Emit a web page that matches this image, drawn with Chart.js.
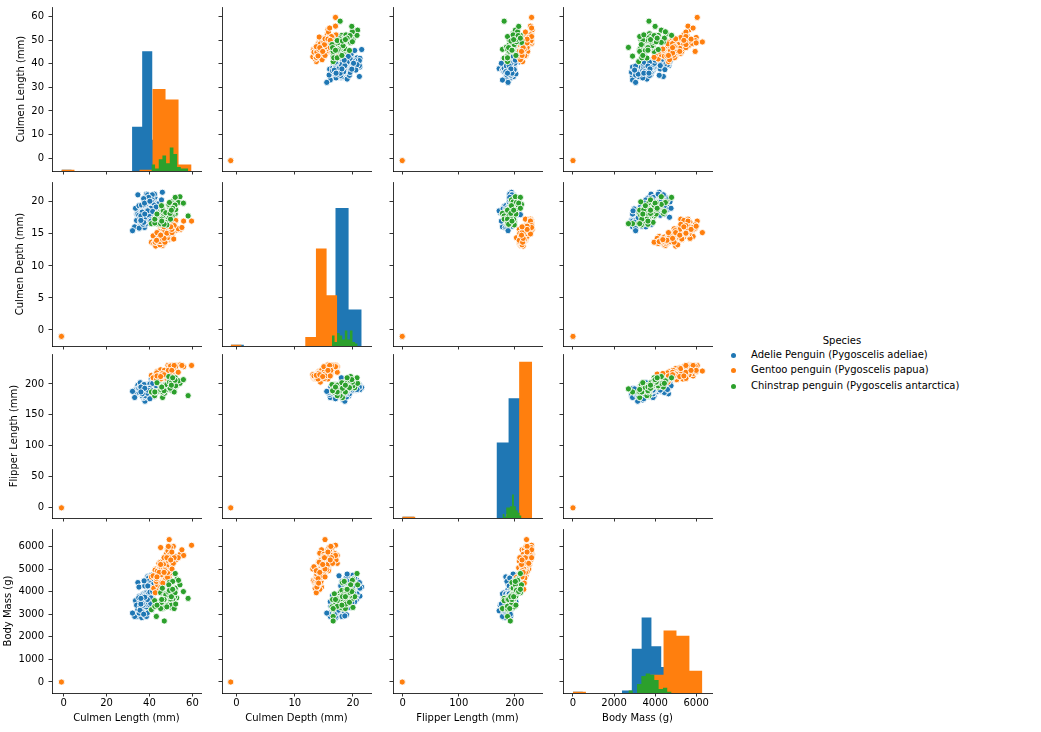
<!DOCTYPE html>
<html>
<head>
<meta charset="utf-8">
<script src="https://cdn.jsdelivr.net/npm/chart.js@4.4.0/dist/chart.umd.min.js"></script>
<style>
  html, body { margin: 0; padding: 0; background: #ffffff; }
  body { width: 1041px; height: 732px; position: relative; overflow: hidden; font-family: "DejaVu Sans", sans-serif; }
  canvas { position: absolute; }
  .leg { position: absolute; font-family: "DejaVu Sans", sans-serif; font-size: 10px; line-height: 12px; color: #000; white-space: nowrap; }
  .dot { position: absolute; width: 5px; height: 5px; border-radius: 50%; }
</style>
</head>
<body>
<script>
// ---------------- DATA ----------------
const variableLabels = ['Culmen Length (mm)', 'Culmen Depth (mm)', 'Flipper Length (mm)', 'Body Mass (g)'];
const speciesNames = ['Adelie Penguin (Pygoscelis adeliae)', 'Gentoo penguin (Pygoscelis papua)', 'Chinstrap penguin (Pygoscelis antarctica)'];
const legendTitle = 'Species';

// axis ranges and tick labels per variable
const axisMin = [-5.4, -2.5, -17.5, -487];
const axisMax = [64.0, 23.1, 248.6, 6770];
const ticksX = [[0, 20, 40, 60], [0, 10, 20], [0, 100, 200], [0, 2000, 4000, 6000]];
const ticksY = [[0, 10, 20, 30, 40, 50, 60], [0, 5, 10, 15, 20], [0, 50, 100, 150, 200], [0, 1000, 2000, 3000, 4000, 5000, 6000]];

// rows: [culmen length, culmen depth, flipper length, body mass]
const adelie = [
  [39.1,18.7,181,3750],[39.5,17.4,186,3800],[40.3,18.0,195,3250],[-1,-1,-1,-1],[36.7,19.3,193,3450],
  [39.3,20.6,190,3650],[38.9,17.8,181,3625],[39.2,19.6,195,4675],[34.1,18.1,193,3475],[42.0,20.2,190,4250],
  [37.8,17.1,186,3300],[37.8,17.3,180,3700],[41.1,17.6,182,3200],[38.6,21.2,191,3800],[34.6,21.1,198,4400],
  [36.6,17.8,185,3700],[38.7,19.0,195,3450],[42.5,20.7,197,4500],[34.4,18.4,184,3325],[46.0,21.5,194,4200],
  [37.8,18.3,174,3400],[37.7,18.7,180,3600],[35.9,19.2,189,3800],[38.2,18.1,185,3950],[38.8,17.2,180,3800],
  [35.3,18.9,187,3800],[40.6,18.6,183,3550],[40.5,17.9,187,3200],[37.9,18.6,172,3150],[40.5,18.9,180,3950],
  [39.5,16.7,178,3250],[37.2,18.1,178,3900],[39.5,17.8,188,3300],[40.9,18.9,184,3900],[36.4,17.0,195,3325],
  [39.2,21.1,196,4150],[38.8,20.0,190,3950],[42.2,18.5,180,3550],[37.6,19.3,181,3300],[39.8,19.1,184,4650],
  [36.5,18.0,182,3150],[40.8,18.4,195,3900],[36.0,18.5,186,3100],[44.1,19.7,196,4400],[37.0,16.9,185,3000],
  [39.6,18.8,190,4600],[41.1,19.0,182,3425],[37.5,18.9,179,2975],[36.0,17.9,190,3500],[42.3,21.2,191,4150],
  [39.6,17.7,186,3500],[40.1,18.9,188,4300],[35.0,17.9,190,3450],[42.0,19.5,200,4050],[34.5,18.1,187,2900],
  [41.4,18.6,191,3700],[39.0,17.5,186,3550],[40.6,18.8,193,3800],[36.5,16.6,181,2850],[37.6,19.1,194,3750],
  [35.7,16.9,185,3150],[41.3,21.1,195,4400],[37.6,17.0,185,3600],[41.1,18.2,192,4050],[36.4,17.1,184,2850],
  [41.6,18.0,192,3950],[35.5,16.2,195,3350],[41.1,19.1,188,4100],[35.9,16.6,190,3050],[41.8,19.4,198,4450],
  [33.5,19.0,190,3600],[39.7,18.4,190,3900],[39.6,17.2,196,3550],[45.8,18.9,197,4150],[35.5,17.5,190,3700],
  [42.8,18.5,195,4250],[40.9,16.8,191,3700],[37.2,19.4,184,3900],[36.2,16.1,187,3550],[42.1,19.1,195,4000],
  [34.6,17.2,189,3200],[42.9,17.6,196,4700],[36.7,18.8,187,3800],[35.1,19.4,193,4200],[37.3,17.8,191,3350],
  [41.3,20.3,194,3550],[36.3,19.5,190,3800],[36.9,18.6,189,3500],[38.3,19.2,189,3950],[38.9,18.8,190,3600],
  [35.7,18.0,202,3550],[41.1,18.1,205,4300],[34.0,17.1,185,3400],[39.6,18.1,186,4450],[36.2,17.3,187,3300],
  [40.8,18.9,208,4300],[38.1,18.6,190,3700],[40.3,18.5,196,4350],[33.1,16.1,178,2900],[43.2,18.5,192,4100],
  [35.0,17.9,192,3725],[41.0,20.0,203,4725],[37.7,16.0,183,3075],[37.8,20.0,190,4250],[37.9,18.6,193,2925],
  [39.7,18.9,184,3550],[38.6,17.2,199,3750],[38.2,20.0,190,3900],[38.1,17.0,181,3175],[43.2,19.0,197,4775],
  [38.1,16.5,198,3825],[45.6,20.3,191,4600],[39.7,17.7,193,3200],[42.2,19.5,197,4275],[39.6,20.7,191,3900],
  [42.7,18.3,196,4075],[38.6,17.0,188,2900],[37.3,20.5,199,3775],[35.7,17.0,189,3350],[41.1,18.6,189,3325],
  [36.2,17.2,187,3150],[37.7,19.8,198,3500],[40.2,17.0,176,3450],[41.4,18.5,202,3875],[35.2,15.9,186,3050],
  [40.6,19.0,199,4000],[38.8,17.6,191,3275],[41.5,18.3,195,4300],[39.0,17.1,191,3050],[44.1,18.0,210,4000],
  [38.5,17.9,190,3325],[43.1,19.2,197,3500],[36.8,18.5,193,3500],[37.5,18.5,199,4475],[38.1,17.6,187,3425],
  [41.1,17.5,190,3900],[35.6,17.5,191,3175],[40.2,20.1,200,3975],[37.0,16.5,185,3400],[39.7,17.9,193,4250],
  [40.2,17.1,193,3400],[40.6,17.2,187,3475],[32.1,15.5,188,3050],[40.7,17.0,190,3725],[37.3,16.8,192,3000],
  [39.0,18.7,185,3650],[39.2,18.6,190,4250],[36.6,18.4,184,3475],[36.0,17.8,195,3450],[37.8,18.1,193,3750],
  [36.0,17.1,187,3700],[41.5,18.5,201,4000]
];
const gentoo = [
  [46.1,13.2,211,4500],[50.0,16.3,230,5700],[48.7,14.1,210,4450],[50.0,15.2,218,5700],[47.6,14.5,215,5400],
  [46.5,13.5,210,4550],[45.4,14.6,211,4800],[46.7,15.3,219,5200],[43.3,13.4,209,4400],[46.8,15.4,215,5150],
  [40.9,13.7,214,4650],[49.0,16.1,216,5550],[45.5,13.7,214,4650],[48.4,14.6,213,5850],[45.8,14.6,210,4200],
  [49.3,15.7,217,5850],[42.0,13.5,210,4150],[49.2,15.2,221,6300],[46.2,14.5,209,4800],[48.7,15.1,222,5350],
  [50.2,14.3,218,5700],[45.1,14.5,215,5000],[46.5,14.5,213,4400],[46.3,15.8,215,5050],[42.9,13.1,215,5000],
  [46.1,15.1,215,5100],[44.5,14.3,216,4100],[47.8,15.0,215,5650],[48.2,14.3,210,4600],[50.0,15.3,220,5550],
  [47.3,15.3,222,5250],[42.8,14.2,209,4700],[45.1,14.5,207,5050],[59.6,17.0,230,6050],[49.1,14.8,220,5150],
  [48.4,16.3,220,5400],[42.6,13.7,213,4950],[44.4,17.3,219,5250],[44.0,13.6,208,4350],[48.7,15.7,208,5350],
  [42.7,13.7,208,3950],[49.6,16.0,225,5700],[45.3,13.7,210,4300],[49.6,15.0,216,4750],[50.5,15.9,222,5550],
  [43.6,13.9,217,4900],[45.5,13.9,210,4200],[50.5,15.9,225,5400],[44.9,13.3,213,5100],[45.2,15.8,215,5300],
  [46.6,14.2,210,4850],[48.5,14.1,220,5300],[45.1,14.4,210,4400],[50.1,15.0,225,5000],[46.5,14.4,217,4900],
  [45.0,15.4,220,5050],[43.8,13.9,208,4300],[45.5,15.0,220,5000],[43.2,14.5,208,4450],[50.4,15.3,224,5550],
  [45.3,13.8,208,4200],[46.2,14.9,221,5300],[45.7,13.9,214,4400],[54.3,15.7,231,5650],[45.8,14.2,219,4700],
  [49.8,16.8,230,5700],[46.2,14.4,214,4650],[49.5,16.2,229,5800],[43.5,14.2,220,4700],[50.7,15.0,223,5550],
  [47.7,15.0,216,4750],[46.4,15.6,221,5000],[48.2,15.6,221,5100],[46.5,14.8,217,5200],[46.4,15.0,216,4700],
  [48.6,16.0,230,5800],[47.5,14.2,209,4600],[51.1,16.3,220,6000],[45.2,13.8,215,4750],[45.2,16.4,223,5950],
  [49.1,14.5,212,4625],[52.5,15.6,221,5450],[47.4,14.6,212,4725],[50.0,15.9,224,5350],[44.9,13.8,212,4750],
  [50.8,17.3,228,5600],[43.4,14.4,218,4600],[51.3,14.2,218,5300],[47.5,14.0,212,4875],[52.1,17.0,230,5550],
  [47.5,15.0,218,4950],[52.2,17.1,228,5400],[45.5,14.5,212,4750],[49.5,16.1,224,5650],[44.5,14.7,214,4850],
  [50.8,15.7,226,5200],[49.4,15.8,216,4925],[46.9,14.6,222,4875],[48.4,14.4,203,4625],[51.1,16.5,225,5250],
  [48.5,15.0,219,4850],[55.9,17.0,228,5600],[47.2,15.5,215,4975],[49.1,15.0,228,5500],[46.8,16.1,215,5500],
  [41.7,14.7,210,4700],[53.4,15.8,219,5500],[43.3,14.0,208,4575],[48.1,15.1,209,5500],[50.5,15.2,216,5000],
  [49.8,15.9,229,5950],[43.5,15.2,213,4650],[51.5,16.3,230,5500],[46.2,14.1,217,4375],[55.1,16.0,230,5850],
  [48.8,16.2,222,6000],[47.2,13.7,214,4925],[46.8,14.3,215,4850],[50.4,15.7,222,5750],[45.2,14.8,212,5200],
  [49.9,16.1,213,5400],[-1,-1,-1,-1]
];
const chinstrap = [
  [46.5,17.9,192,3500],[50.0,19.5,196,3900],[51.3,19.2,193,3650],[45.4,18.7,188,3525],[52.7,19.8,197,3725],
  [45.2,17.8,198,3950],[46.1,18.2,178,3250],[51.3,18.2,197,3750],[46.0,18.9,195,4150],[51.3,19.9,198,3700],
  [46.6,17.8,193,3800],[51.7,20.3,194,3775],[47.0,17.3,185,3700],[52.0,18.1,201,4050],[45.9,17.1,190,3575],
  [50.5,19.6,201,4050],[50.3,20.0,197,3300],[58.0,17.8,181,3700],[46.4,18.6,190,3450],[49.2,18.2,195,4400],
  [42.4,17.3,181,3600],[48.5,17.5,191,3400],[43.2,16.6,187,2900],[50.6,19.4,193,3800],[46.7,17.9,195,3300],
  [52.0,19.0,197,4150],[50.5,18.4,200,3400],[49.5,19.0,200,3800],[46.4,17.8,191,3700],[52.8,20.0,205,4550],
  [40.9,16.6,187,3200],[54.2,20.8,201,4300],[42.5,16.7,187,3350],[51.0,18.8,203,4100],[49.7,18.6,195,3600],
  [47.5,16.8,199,3900],[47.6,18.3,195,3850],[52.0,20.7,210,4800],[46.9,16.6,192,2700],[53.5,19.9,205,4500],
  [49.0,19.5,210,3950],[46.2,17.5,187,3650],[50.9,19.1,196,3550],[45.5,17.0,196,3500],[50.9,17.9,196,3675],
  [50.8,18.5,201,4450],[50.1,17.9,190,3400],[49.0,19.6,212,4300],[51.5,18.7,187,3250],[49.8,17.3,198,3675],
  [48.1,16.4,199,3325],[51.4,19.0,201,3950],[45.7,17.3,193,3600],[50.7,19.7,203,4050],[42.5,17.3,187,3350],
  [52.2,18.8,197,3450],[45.2,16.6,191,3250],[49.3,19.9,203,4050],[50.2,18.8,202,3800],[45.6,19.4,194,3525],
  [51.9,19.5,206,3950],[46.8,16.5,189,3650],[45.7,17.0,195,3650],[55.8,19.8,207,4000],[43.5,18.1,202,3400],
  [49.6,18.2,193,3775],[50.8,19.0,210,4100],[50.2,18.7,198,3775]
];

// diagonal histograms: value range of each species (10 equal bins) and bar counts, per variable
const histCountMax = 126;
const adelieHistRange = [[-1, 46.0], [-1, 21.5], [-1, 210], [-1, 4775]];
const adelieHistCounts = [
  [1, 0, 0, 0, 0, 0, 0, 34, 92, 24],
  [1, 0, 0, 0, 0, 0, 0, 16, 106, 28],
  [1, 0, 0, 0, 0, 0, 0, 0, 58, 92],
  [1, 0, 0, 0, 0, 2, 34, 58, 36, 20]
];
const gentooHistRange = [[-1, 59.6], [-1, 17.3], [-1, 231], [-1, 6300]];
const gentooHistCounts = [
  [1, 0, 0, 0, 0, 0, 1, 63, 55, 5],
  [1, 0, 0, 0, 0, 0, 0, 7, 75, 39],
  [1, 0, 0, 0, 0, 0, 0, 0, 3, 120],
  [1, 0, 0, 0, 0, 0, 14, 48, 44, 17]
];
const chinstrapHistRange = [[40.9, 58.0], [16.4, 20.8], [178, 212], [2700, 4800]];
const chinstrapHistCounts = [
  [5, 2, 9, 12, 6, 18, 13, 3, 2, 2],
  [8, 3, 10, 8, 5, 12, 5, 12, 3, 2],
  [3, 1, 8, 8, 9, 18, 9, 6, 4, 2],
  [2, 0, 7, 13, 15, 14, 10, 3, 4, 1]
];

// ---------------- STYLE / LAYOUT ----------------
const speciesColors = ['#1f77b4', '#ff7f0e', '#2ca02c'];
const panelLeft = [52, 222, 393, 563];
const panelTop = [7, 182, 354, 529];
const panelW = 149, panelH = 164;
const yAxisW = 52, xAxisH = 40, padTop = 12, padRight = 15;
const yTitlePad = [15.7, 14.7, 8.7, 2.3];
const FONT = { family: '"DejaVu Sans", sans-serif', size: 10 };
const TXT = '#000000';

const allSpecies = [adelie, gentoo, chinstrap];
const histRanges = [adelieHistRange, gentooHistRange, chinstrapHistRange];
const histCounts = [adelieHistCounts, gentooHistCounts, chinstrapHistCounts];

// step points: one point at the start of each bin, plus the closing edge
function histSteps(range, counts) {
  const n = counts.length;
  const w = (range[1] - range[0]) / n;
  const pts = counts.map((c, i) => ({ x: range[0] + i * w, y: c }));
  pts.push({ x: range[1], y: counts[n - 1] });
  return pts;
}

function gridOpts() {
  return { display: true, drawOnChartArea: false, drawTicks: true, tickLength: 3.5, tickWidth: 0.8, tickColor: '#000' };
}

function makePanel(r, c) {
  const canvas = document.createElement('canvas');
  const W = yAxisW + panelW + padRight, H = padTop + panelH + xAxisH;
  canvas.width = W; canvas.height = H;
  canvas.style.width = W + 'px'; canvas.style.height = H + 'px';
  canvas.style.left = (panelLeft[c] - yAxisW) + 'px';
  canvas.style.top = (panelTop[r] - padTop) + 'px';
  document.body.appendChild(canvas);

  const scales = {
    x: {
      type: 'linear', position: 'bottom', min: axisMin[c], max: axisMax[c],
      afterBuildTicks: s => { s.ticks = ticksX[c].map(v => ({ value: v })); },
      afterFit: s => { s.height = xAxisH; },
      ticks: { display: r === 3, font: FONT, color: TXT, padding: 1, maxRotation: 0, autoSkip: false, callback: v => String(v) },
      grid: gridOpts(),
      border: { display: true, color: '#000', width: 0.8 },
      title: { display: r === 3, text: variableLabels[c], font: FONT, color: TXT, padding: { top: 0, bottom: 9 } }
    },
    y: {
      type: 'linear', position: 'left', min: axisMin[r], max: axisMax[r],
      afterBuildTicks: s => { s.ticks = ticksY[r].map(v => ({ value: v })); },
      afterFit: s => { s.width = yAxisW; },
      ticks: { display: c === 0, font: FONT, color: TXT, padding: 4.5, autoSkip: false, callback: v => String(v) },
      grid: gridOpts(),
      border: { display: true, color: '#000', width: 0.8 },
      title: { display: c === 0, text: variableLabels[r], font: FONT, color: TXT, padding: { top: yTitlePad[r], bottom: 0 } }
    }
  };

  let datasets;
  if (r === c) {
    scales.yHist = { type: 'linear', display: false, min: 0, max: histCountMax };
    datasets = [0, 1, 2].map(s => ({
      label: speciesNames[s],
      data: histSteps(histRanges[s][c], histCounts[s][c]),
      xAxisID: 'x', yAxisID: 'yHist',
      showLine: true, stepped: 'before', fill: 'origin', tension: 0,
      backgroundColor: speciesColors[s], borderColor: 'rgba(0,0,0,0)', borderWidth: 0,
      pointRadius: 0, pointHoverRadius: 0,
      order: 3 - s
    }));
  } else {
    datasets = [0, 1, 2].map(s => ({
      label: speciesNames[s],
      data: allSpecies[s].map(row => ({ x: row[c], y: row[r] })),
      backgroundColor: speciesColors[s], borderColor: '#ffffff', borderWidth: 0.9,
      pointRadius: 3.1, pointHoverRadius: 3.1,
      order: 3 - s
    }));
  }

  new Chart(canvas, {
    type: 'scatter',
    data: { datasets },
    options: {
      responsive: false, maintainAspectRatio: false, animation: false, events: [],
      layout: { padding: { left: 0, top: padTop, right: padRight, bottom: 0 } },
      plugins: { legend: { display: false }, tooltip: { enabled: false }, title: { display: false } },
      scales
    }
  });
}

for (let r = 0; r < 4; r++) for (let c = 0; c < 4; c++) makePanel(r, c);

// legend (HTML text)
(function () {
  const t = document.createElement('div');
  t.className = 'leg';
  t.style.left = '742px'; t.style.width = '200px'; t.style.textAlign = 'center'; t.style.top = '335px';
  t.textContent = legendTitle;
  document.body.appendChild(t);
  const rowsY = [355.5, 370.8, 386];
  speciesNames.forEach((name, i) => {
    const d = document.createElement('div');
    d.className = 'dot';
    d.style.background = speciesColors[i];
    d.style.left = '731px'; d.style.top = (rowsY[i] - 2.5) + 'px';
    document.body.appendChild(d);
    const l = document.createElement('div');
    l.className = 'leg';
    l.style.left = '751px'; l.style.top = (rowsY[i] - 6.5) + 'px';
    l.textContent = name;
    document.body.appendChild(l);
  });
})();
</script>
</body>
</html>
